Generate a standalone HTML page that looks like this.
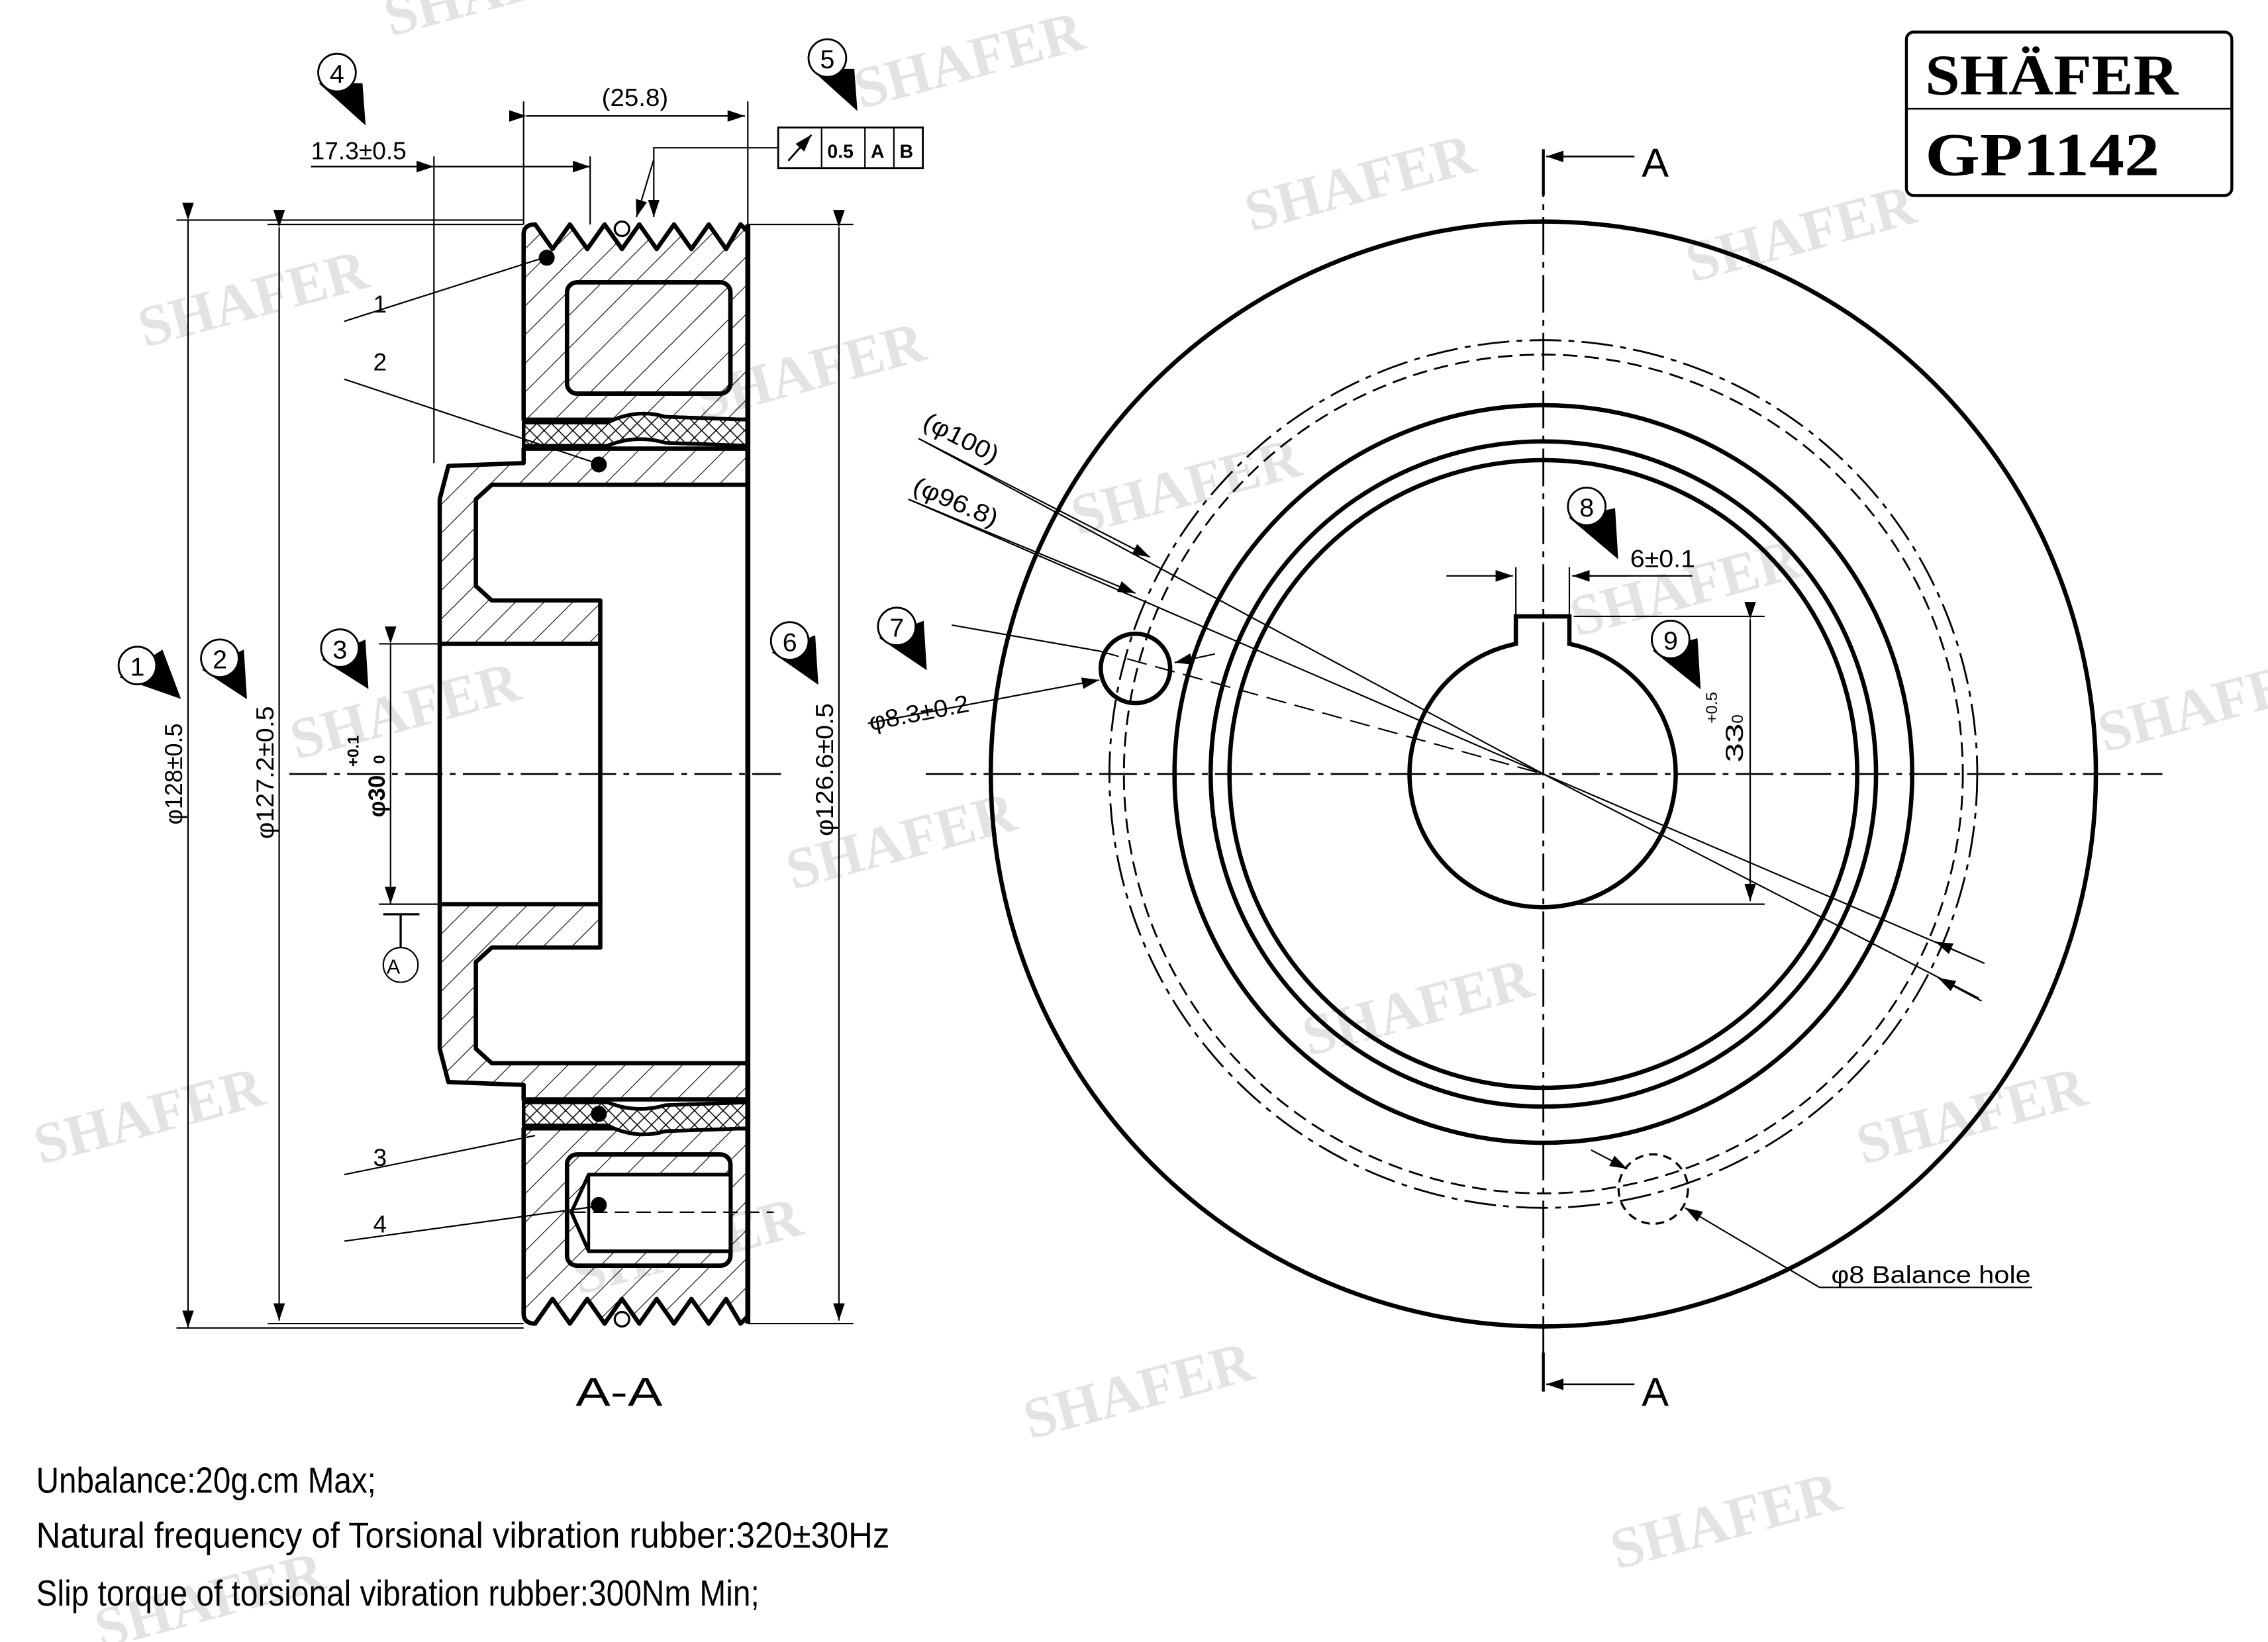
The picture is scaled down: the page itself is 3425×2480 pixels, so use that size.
<!DOCTYPE html>
<html><head><meta charset="utf-8"><style>html,body{margin:0;padding:0;background:#fff}svg{display:block}</style></head>
<body>
<svg width="3425" height="2480" viewBox="0 0 1568 1135" xmlns="http://www.w3.org/2000/svg" font-family="Liberation Sans, sans-serif">
<defs>
<pattern id="h1" width="14" height="14" patternUnits="userSpaceOnUse" patternTransform="rotate(45)"><line x1="0" y1="0" x2="0" y2="14" stroke="#000" stroke-width="1"/></pattern>
<pattern id="h2" width="16" height="16" patternUnits="userSpaceOnUse" patternTransform="rotate(45)"><line x1="0" y1="0" x2="0" y2="16" stroke="#000" stroke-width="1"/></pattern>
<pattern id="hx" width="7" height="7" patternUnits="userSpaceOnUse" patternTransform="rotate(45)"><line x1="0" y1="0" x2="0" y2="7" stroke="#000" stroke-width="1.4"/><line x1="0" y1="0" x2="7" y2="0" stroke="#000" stroke-width="1.4"/></pattern>
<marker id="ar" markerWidth="12" markerHeight="8" refX="12" refY="4" orient="auto" markerUnits="userSpaceOnUse"><path d="M0,0 L12,4 L0,8 z" fill="#000"/></marker>
</defs>
<rect width="1568" height="1135" fill="#fff"/>

<!-- watermarks -->
<g fill="#e3e3e3" font-family="Liberation Serif, serif" font-weight="bold" font-size="40">
<text transform="translate(270,25) rotate(-15)">SHAFER</text>
<text transform="translate(595,75) rotate(-15)">SHAFER</text>
<text transform="translate(865,160) rotate(-15)">SHAFER</text>
<text transform="translate(1170,195) rotate(-15)">SHAFER</text>
<text transform="translate(100,240) rotate(-15)">SHAFER</text>
<text transform="translate(485,290) rotate(-15)">SHAFER</text>
<text transform="translate(745,370) rotate(-15)">SHAFER</text>
<text transform="translate(1090,440) rotate(-15)">SHAFER</text>
<text transform="translate(1455,520) rotate(-15)">SHAFER</text>
<text transform="translate(205,525) rotate(-15)">SHAFER</text>
<text transform="translate(548,615) rotate(-15)">SHAFER</text>
<text transform="translate(905,730) rotate(-15)">SHAFER</text>
<text transform="translate(28,805) rotate(-15)">SHAFER</text>
<text transform="translate(1288,805) rotate(-15)">SHAFER</text>
<text transform="translate(400,895) rotate(-15)">SHAFER</text>
<text transform="translate(712,995) rotate(-15)">SHAFER</text>
<text transform="translate(1118,1085) rotate(-15)">SHAFER</text>
<text transform="translate(70,1140) rotate(-15)">SHAFER</text>
</g>

<!-- logo -->
<rect x="1318" y="22" width="225" height="113" rx="5" fill="none" stroke="#000" stroke-width="2"/>
<line x1="1318" y1="75" x2="1543" y2="75" stroke="#000" stroke-width="1.2"/>
<text x="1331" y="65" font-family="Liberation Serif, serif" font-weight="bold" font-size="40" textLength="175" lengthAdjust="spacingAndGlyphs">SHÄFER</text>
<text x="1331" y="121" font-family="Liberation Serif, serif" font-weight="bold" font-size="42" textLength="162" lengthAdjust="spacingAndGlyphs">GP1142</text>

<!-- ===== LEFT SECTION VIEW ===== -->
<g stroke="#000" stroke-linejoin="round">
<!-- outer ring top -->
<path d="M362,290 L362,162 Q362,155 370,155 L382,172 L394,155 L406,172 L418,155 L430,172 L442,155 L454,172 L466,155 L478,172 L490,155 L502,172 L512,155 L517,160 L517,290 Z" fill="url(#h1)" stroke-width="3"/>
<rect x="392" y="195" width="113" height="77" rx="7" fill="#fff" stroke-width="3"/>
<rect x="392" y="195" width="113" height="77" rx="7" fill="url(#h2)" stroke-width="3"/>
<!-- rubber top -->
<path d="M362,292 L362,308 L420,308 Q440,300 460,306 L517,308 L517,290 L460,288 Q440,282 420,292 Z" fill="#fff" stroke-width="2.5"/>
<path d="M362,292 L362,308 L420,308 Q440,300 460,306 L517,308 L517,290 L460,288 Q440,282 420,292 Z" fill="url(#hx)" stroke-width="2.5"/>
<!-- hub top -->
<path d="M304,345 L310,322 L362,320 L362,310 L517,310 L517,335 L340,335 L329,345 L329,405 L340,415 L415,415 L415,445 L304,445 Z" fill="url(#h1)" stroke-width="3"/>

<!-- outer ring bottom -->
<path d="M362,780 L362,908 Q362,915 370,915 L382,898 L394,915 L406,898 L418,915 L430,898 L442,915 L454,898 L466,915 L478,898 L490,915 L502,898 L512,915 L517,910 L517,780 Z" fill="url(#h1)" stroke-width="3"/>
<rect x="392" y="798" width="113" height="77" rx="7" fill="#fff" stroke-width="3"/>
<rect x="392" y="798" width="113" height="77" rx="7" fill="url(#h2)" stroke-width="3"/>
<path d="M407,812 L505,812 L505,865 L407,865 L395,838 Z" fill="#fff" stroke-width="2.5"/>
<line x1="407" y1="812" x2="407" y2="865" stroke-width="2"/>
<!-- rubber bottom -->
<path d="M362,778 L362,762 L420,762 Q440,770 460,764 L517,762 L517,780 L460,782 Q440,788 420,778 Z" fill="#fff" stroke-width="2.5"/>
<path d="M362,778 L362,762 L420,762 Q440,770 460,764 L517,762 L517,780 L460,782 Q440,788 420,778 Z" fill="url(#hx)" stroke-width="2.5"/>
<!-- hub bottom -->
<path d="M304,725 L310,748 L362,750 L362,760 L517,760 L517,735 L340,735 L329,725 L329,665 L340,655 L415,655 L415,625 L304,625 Z" fill="url(#h1)" stroke-width="3"/>
<!-- bore lines -->
<line x1="304" y1="445" x2="304" y2="625" stroke-width="3"/>
<line x1="415" y1="445" x2="415" y2="625" stroke-width="3"/>
<line x1="517" y1="155" x2="517" y2="915" stroke-width="3.5"/>
<!-- ring dots -->
<circle cx="378" cy="178" r="5" fill="#000"/>
<circle cx="414" cy="321" r="5" fill="#000"/>
<circle cx="414" cy="770" r="5" fill="#000"/>
<circle cx="414" cy="833" r="5" fill="#000"/>
<circle cx="430" cy="158" r="5" fill="#fff" stroke-width="1.5"/>
<circle cx="430" cy="912" r="5" fill="#fff" stroke-width="1.5"/>
</g>
<!-- centerline left -->
<line x1="200" y1="535" x2="540" y2="535" stroke="#000" stroke-width="1.3" stroke-dasharray="26,5,4,5"/>
<line x1="395" y1="838" x2="535" y2="838" stroke="#000" stroke-width="1" stroke-dasharray="10,5"/>

<!-- dimensions left -->
<g stroke="#000" stroke-width="1" fill="none">
<line x1="122" y1="152" x2="362" y2="152"/><line x1="122" y1="918" x2="362" y2="918"/>
<line x1="130" y1="152" x2="130" y2="918" marker-start="url(#ar)" marker-end="url(#ar)"/>
<line x1="185" y1="155" x2="362" y2="155"/><line x1="185" y1="915" x2="362" y2="915"/>
<line x1="193" y1="157" x2="193" y2="913" marker-start="url(#ar)" marker-end="url(#ar)"/>
<line x1="517" y1="155" x2="590" y2="155"/><line x1="517" y1="915" x2="590" y2="915"/>
<line x1="580" y1="157" x2="580" y2="913" marker-start="url(#ar)" marker-end="url(#ar)"/>
<line x1="262" y1="445" x2="304" y2="445"/><line x1="262" y1="625" x2="304" y2="625"/>
<line x1="270" y1="445" x2="270" y2="625" marker-start="url(#ar)" marker-end="url(#ar)"/>
<line x1="362" y1="70" x2="362" y2="155"/><line x1="517" y1="70" x2="517" y2="155"/>
<line x1="364" y1="80" x2="515" y2="80" marker-start="url(#ar)" marker-end="url(#ar)"/>
<line x1="300" y1="108" x2="300" y2="320"/><line x1="408" y1="108" x2="408" y2="155"/>
<line x1="215" y1="115" x2="300" y2="115"/>
<line x1="300" y1="115" x2="408" y2="115" marker-start="url(#ar)" marker-end="url(#ar)"/>
<line x1="265" y1="632" x2="290" y2="632" stroke-width="1.5"/><line x1="277" y1="632" x2="277" y2="655" stroke-width="1.5"/>
<circle cx="277" cy="667" r="12"/>
<!-- runout leader -->
<path d="M538,102 L452,102 L452,150" marker-end="url(#ar)"/>
<line x1="452" y1="110" x2="440" y2="150" marker-end="url(#ar)"/>
<rect x="538" y="88" width="100" height="28" stroke-width="1.3"/>
<line x1="568" y1="88" x2="568" y2="116"/><line x1="598" y1="88" x2="598" y2="116"/><line x1="618" y1="88" x2="618" y2="116"/>
<line x1="545" y1="111" x2="561" y2="93" marker-end="url(#ar)" stroke-width="1.3"/>
<!-- part leaders -->
<line x1="238" y1="222" x2="376" y2="178"/>
<line x1="238" y1="262" x2="412" y2="320"/>
<line x1="238" y1="812" x2="370" y2="785"/>
<line x1="238" y1="858" x2="412" y2="834"/>
</g>
<g font-size="17" fill="#000">
<text x="258" y="216">1</text><text x="258" y="256">2</text><text x="258" y="806">3</text><text x="258" y="852">4</text>
<text x="416" y="73" textLength="46" lengthAdjust="spacingAndGlyphs">(25.8)</text>
<text x="215" y="110" textLength="66" lengthAdjust="spacingAndGlyphs">17.3±0.5</text>
<text x="572" y="109" font-size="13" font-weight="bold">0.5</text><text x="602" y="109" font-size="13" font-weight="bold">A</text><text x="622" y="109" font-size="13" font-weight="bold">B</text>
<text x="272" y="673" font-size="14" text-anchor="middle">A</text>
<text transform="translate(126,570) rotate(-90)" textLength="70" lengthAdjust="spacingAndGlyphs">φ128±0.5</text>
<text transform="translate(189,580) rotate(-90)" textLength="92" lengthAdjust="spacingAndGlyphs">φ127.2±0.5</text>
<text transform="translate(576,578) rotate(-90)" textLength="92" lengthAdjust="spacingAndGlyphs">φ126.6±0.5</text>
<text transform="translate(266,565) rotate(-90)" font-weight="bold" font-size="16">φ30</text>
<text transform="translate(248,530) rotate(-90)" font-weight="bold" font-size="11">+0.1</text>
<text transform="translate(266,528) rotate(-90)" font-weight="bold" font-size="11">0</text>
<text x="398" y="972" font-size="28" textLength="60" lengthAdjust="spacingAndGlyphs">A-A</text>
</g>

<!-- balloons -->
<g stroke="#000" stroke-width="1.3" fill="#fff" font-size="18">
<g><path d="M222,58 L252,85 L250,58 Z" fill="#000"/><circle cx="233" cy="50" r="13"/><text x="233" y="57" text-anchor="middle" fill="#000" stroke="none">4</text></g>
<g><path d="M562,48 L592,75 L590,48 Z" fill="#000"/><circle cx="572" cy="40" r="13"/><text x="572" y="47" text-anchor="middle" fill="#000" stroke="none">5</text></g>
<g><path d="M84,468 L124,482 L112,450 Z" fill="#000"/><circle cx="95" cy="460" r="13"/><text x="95" y="467" text-anchor="middle" fill="#000" stroke="none">1</text></g>
<g><path d="M141,463 L170,482 L168,450 Z" fill="#000"/><circle cx="152" cy="455" r="13"/><text x="152" y="462" text-anchor="middle" fill="#000" stroke="none">2</text></g>
<g><path d="M224,456 L254,475 L252,443 Z" fill="#000"/><circle cx="235" cy="448" r="13"/><text x="235" y="455" text-anchor="middle" fill="#000" stroke="none">3</text></g>
<g><path d="M535,451 L565,472 L563,440 Z" fill="#000"/><circle cx="546" cy="443" r="13"/><text x="546" y="450" text-anchor="middle" fill="#000" stroke="none">6</text></g>
<g><path d="M609,441 L640,462 L638,430 Z" fill="#000"/><circle cx="620" cy="433" r="13"/><text x="620" y="440" text-anchor="middle" fill="#000" stroke="none">7</text></g>
<g><path d="M1086,358 L1118,385 L1116,352 Z" fill="#000"/><circle cx="1097" cy="350" r="13"/><text x="1097" y="357" text-anchor="middle" fill="#000" stroke="none">8</text></g>
<g><path d="M1144,450 L1175,475 L1173,442 Z" fill="#000"/><circle cx="1155" cy="442" r="13"/><text x="1155" y="449" text-anchor="middle" fill="#000" stroke="none">9</text></g>
</g>

<!-- ===== RIGHT VIEW ===== -->
<g fill="none" stroke="#000">
<circle cx="1067" cy="535" r="382" stroke-width="3"/>
<circle cx="1067" cy="535" r="300" stroke-width="1.3" stroke-dasharray="22,5,4,5"/>
<circle cx="1067" cy="535" r="290" stroke-width="1.3" stroke-dasharray="10,5"/>
<circle cx="1067" cy="535" r="255" stroke-width="3"/>
<circle cx="1067" cy="535" r="230" stroke-width="3"/>
<circle cx="1067" cy="535" r="217" stroke-width="3"/>
<path d="M1048,426 L1085,426 L1085,445 A92,92 0 1 1 1048,445 Z" stroke-width="3"/>
<circle cx="785" cy="462" r="24" stroke-width="3"/>
<circle cx="1143" cy="822" r="24" stroke-width="1.5" stroke-dasharray="6,4"/>
<line x1="640" y1="535" x2="1495" y2="535" stroke-width="1.3" stroke-dasharray="26,5,4,5"/>
<line x1="1067" y1="110" x2="1067" y2="960" stroke-width="1.3" stroke-dasharray="26,5,4,5"/>
<!-- section markers -->
<line x1="1067" y1="103" x2="1067" y2="135" stroke-width="2"/>
<line x1="1130" y1="108" x2="1069" y2="108" stroke-width="1.2" marker-end="url(#ar)"/>
<line x1="1067" y1="935" x2="1067" y2="962" stroke-width="2"/>
<line x1="1130" y1="957" x2="1069" y2="957" stroke-width="1.2" marker-end="url(#ar)"/>
<!-- leaders -->
<g stroke-width="1">
<line x1="635" y1="303" x2="1067" y2="535"/>
<line x1="635" y1="303" x2="795" y2="385" marker-end="url(#ar)"/>
<line x1="1067" y1="535" x2="1370" y2="665"/>
<line x1="1372" y1="666" x2="1338" y2="651" marker-end="url(#ar)"/>
<line x1="628" y1="345" x2="1067" y2="535"/>
<line x1="628" y1="345" x2="785" y2="410" marker-end="url(#ar)"/>
<line x1="1067" y1="535" x2="1368" y2="690"/>
<line x1="1370" y1="692" x2="1340" y2="676" marker-end="url(#ar)"/>
<line x1="658" y1="432" x2="760" y2="450"/>
<line x1="760" y1="450" x2="1067" y2="535" stroke-dasharray="14,6"/>
<line x1="600" y1="500" x2="760" y2="470" marker-end="url(#ar)"/>
<line x1="840" y1="452" x2="812" y2="458" marker-end="url(#ar)"/>
<line x1="1000" y1="398" x2="1046" y2="398" marker-end="url(#ar)"/>
<line x1="1125" y1="398" x2="1087" y2="398" marker-end="url(#ar)"/>
<line x1="1087" y1="398" x2="1170" y2="398"/>
<line x1="1048" y1="392" x2="1048" y2="426"/><line x1="1085" y1="392" x2="1085" y2="426"/>
<line x1="1088" y1="426" x2="1220" y2="426"/><line x1="1088" y1="625" x2="1220" y2="625"/>
<line x1="1210" y1="428" x2="1210" y2="623" marker-start="url(#ar)" marker-end="url(#ar)"/>
<line x1="1100" y1="795" x2="1125" y2="808" marker-end="url(#ar)"/>
<line x1="1258" y1="890" x2="1165" y2="835" marker-end="url(#ar)"/>
<line x1="1258" y1="890" x2="1405" y2="890"/>
</g>
</g>
<g font-size="17" fill="#000">
<text x="1135" y="122" font-size="28">A</text>
<text x="1135" y="972" font-size="28">A</text>
<text transform="translate(637,295) rotate(27)" textLength="56" lengthAdjust="spacingAndGlyphs">(φ100)</text>
<text transform="translate(630,340) rotate(23)" textLength="62" lengthAdjust="spacingAndGlyphs">(φ96.8)</text>
<text transform="translate(602,505) rotate(-11)" textLength="70" lengthAdjust="spacingAndGlyphs">φ8.3±0.2</text>
<text x="1127" y="392" textLength="45" lengthAdjust="spacingAndGlyphs">6±0.1</text>
<text transform="translate(1205,527) rotate(-90)" textLength="27" lengthAdjust="spacingAndGlyphs">33</text>
<text transform="translate(1187,500) rotate(-90)" font-size="11">+0.5</text>
<text transform="translate(1205,500) rotate(-90)" font-size="11">0</text>
<text x="1266" y="887" textLength="138" lengthAdjust="spacingAndGlyphs">φ8 Balance hole</text>
</g>

<!-- notes -->
<g font-size="25" fill="#000">
<text x="25" y="1032" textLength="235" lengthAdjust="spacingAndGlyphs">Unbalance:20g.cm Max;</text>
<text x="25" y="1070" textLength="590" lengthAdjust="spacingAndGlyphs">Natural frequency of Torsional vibration rubber:320±30Hz</text>
<text x="25" y="1110" textLength="500" lengthAdjust="spacingAndGlyphs">Slip torque of torsional vibration rubber:300Nm Min;</text>
</g>
</svg>
</body></html>
